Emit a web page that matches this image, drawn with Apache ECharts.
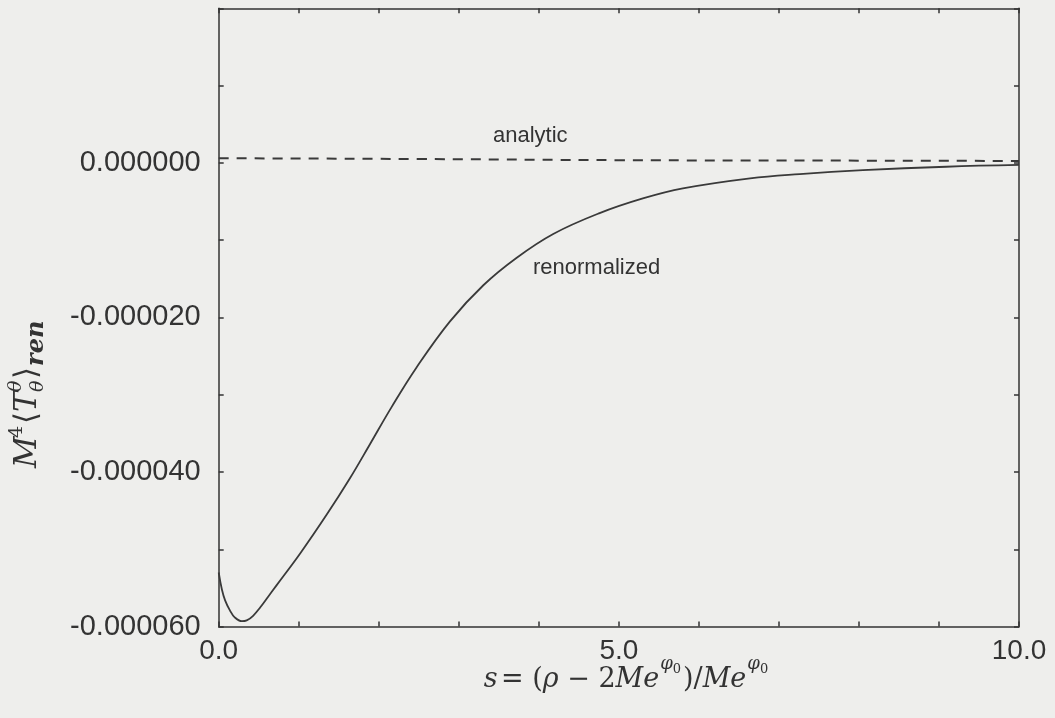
<!DOCTYPE html>
<html>
<head>
<meta charset="utf-8">
<script src="https://cdn.jsdelivr.net/npm/echarts@6/dist/echarts.min.js"></script>
<style>
html,body{margin:0;padding:0;background:#eeeeec;}
#chart{width:1055px;height:718px;}
</style>
</head>
<body>
<div id="chart"></div>
<script>
// s values (x) and renormalized stress-energy values (y)
const sValues = [0.0, 0.04, 0.08, 0.14, 0.2, 0.29, 0.35, 0.43, 0.52, 0.62, 0.72, 1.02, 1.35, 1.64, 1.89, 2.16, 2.47, 2.89, 3.31, 3.72, 4.18, 4.76, 5.3, 5.8, 6.64, 7.26, 8.05, 9.09, 10.0];
const renormValues = [-5.30e-5, -5.52e-5, -5.66e-5, -5.79e-5, -5.88e-5, -5.93e-5, -5.92e-5, -5.86e-5, -5.75e-5, -5.61e-5, -5.47e-5, -5.05e-5, -4.55e-5, -4.08e-5, -3.64e-5, -3.16e-5, -2.65e-5, -2.05e-5, -1.58e-5, -1.23e-5, -0.92e-5, -0.65e-5, -0.46e-5, -0.33e-5, -0.20e-5, -0.145e-5, -0.095e-5, -0.05e-5, -0.027e-5];
const analyticS = [0.0, 2.5, 5.0, 7.5, 10.0];
const analyticValues = [0.06e-5, 0.05e-5, 0.035e-5, 0.03e-5, 0.025e-5];
const xLabels = ['0.0', '5.0', '10.0'];
const xLabelValues = [0, 5, 10];
const yLabelValues = [0, -2e-5, -4e-5, -6e-5];

const ink = '#333333';
const chart = echarts.init(document.getElementById('chart'));

function xFmt(v) {
  const i = xLabelValues.findIndex(t => Math.abs(t - v) < 1e-9);
  return i >= 0 ? xLabels[i] : '';
}
function yFmt(v) {
  const ok = yLabelValues.some(t => Math.abs(t - v) < 1e-10);
  if (!ok) return '';
  const s = Math.abs(v) < 1e-12 ? 0 : v;
  return s.toFixed(6);
}

const tickStyle = {show: true, inside: true, length: 5, lineStyle: {color: ink, width: 1.5}};
const lineStyle = {show: true, onZero: false, lineStyle: {color: ink, width: 1.5}};
const serif = '"DejaVu Serif", "Liberation Serif", serif';
const sans = '"Liberation Sans", Arial, sans-serif';

function yName() {
  const it = (t, x, y, size) => ({
    type: 'text', x: x, y: y,
    style: {text: t, fill: ink, font: 'italic ' + size + 'px ' + serif, verticalAlign: 'middle', align: 'left'}
  });
  const up = (t, x, y, size) => ({
    type: 'text', x: x, y: y,
    style: {text: t, fill: ink, font: size + 'px ' + serif, verticalAlign: 'middle', align: 'left'}
  });
  return {
    type: 'group', x: 28, y: 468, rotation: Math.PI / 2,
    children: [
      it('M', 0, 0, 31),
      up('4', 30, -11, 19),
      up('⟨', 44, 0, 31),
      it('T', 56, 0, 31),
      it('θ', 76, -12, 19),
      it('θ', 76, 10, 19),
      up('⟩', 89, 0, 31),
      {type: 'text', x: 102, y: 9, style: {text: 'ren', fill: ink, font: 'italic bold 24px ' + serif, verticalAlign: 'middle', align: 'left'}}
    ]
  };
}

const xNameRich = {
  i: {fontFamily: serif, fontStyle: 'italic', fontSize: 27, fill: ink, lineHeight: 40, verticalAlign: 'bottom'},
  n: {fontFamily: serif, fontSize: 27, fill: ink, lineHeight: 40, verticalAlign: 'bottom'},
  sup: {fontFamily: serif, fontStyle: 'italic', fontSize: 18, fill: ink, lineHeight: 40, verticalAlign: 'top', padding: [2,0,0,1]},
  sup0: {fontFamily: serif, fontSize: 13, fill: ink, lineHeight: 40, verticalAlign: 'top', padding: [10,2,0,0]}
};

chart.setOption({
  backgroundColor: '#eeeeec',
  animation: false,
  grid: {left: 218.7, top: 8.3, right: 36, bottom: 91.4, containLabel: false, outerBoundsMode: 'none'},
  xAxis: [{
    type: 'value', min: 0, max: 10, interval: 1, position: 'bottom',
    axisLine: lineStyle, axisTick: tickStyle, splitLine: {show: false},
    axisLabel: {formatter: xFmt, color: ink, fontSize: 28, fontFamily: sans, margin: 11}
  }, {
    type: 'value', min: 0, max: 10, interval: 1, position: 'top',
    axisLine: lineStyle, axisTick: tickStyle, axisLabel: {show: false}, splitLine: {show: false}
  }],
  yAxis: [{
    type: 'value', min: -6e-5, max: 2e-5, interval: 1e-5, position: 'left',
    axisLine: lineStyle, axisTick: tickStyle, splitLine: {show: false},
    axisLabel: {formatter: yFmt, color: ink, fontSize: 29, fontFamily: sans, margin: 18}
  }, {
    type: 'value', min: -6e-5, max: 2e-5, interval: 1e-5, position: 'right',
    axisLine: lineStyle, axisTick: tickStyle, axisLabel: {show: false}, splitLine: {show: false}
  }],
  series: [{
    name: 'renormalized', type: 'line', smooth: 0.4, showSymbol: false,
    xAxisIndex: 0, yAxisIndex: 0,
    data: sValues.map((s, i) => [s, renormValues[i]]),
    lineStyle: {color: '#3a3a3a', width: 1.8}
  }, {
    name: 'analytic', type: 'line', smooth: true, showSymbol: false,
    xAxisIndex: 0, yAxisIndex: 0,
    data: analyticS.map((s, i) => [s, analyticValues[i]]),
    lineStyle: {color: '#3a3a3a', width: 2, type: [10, 8]}
  }],
  graphic: [
    {type: 'text', left: 493, top: 125, style: {text: 'analytic', fill: ink, font: '22px ' + sans}},
    {type: 'text', left: 533, top: 257, style: {text: 'renormalized', fill: ink, font: '22px ' + sans}},
    {type: 'text', x: 627, y: 673, style: {
      text: '{i|s} {n|= (}{i|ρ}{n| − 2}{i|Me}{sup|φ}{sup0|0}{n|)/}{i|Me}{sup|φ}{sup0|0}',
      align: 'center', verticalAlign: 'middle', rich: xNameRich
    }},
    yName()
  ]
});
</script>
</body>
</html>
